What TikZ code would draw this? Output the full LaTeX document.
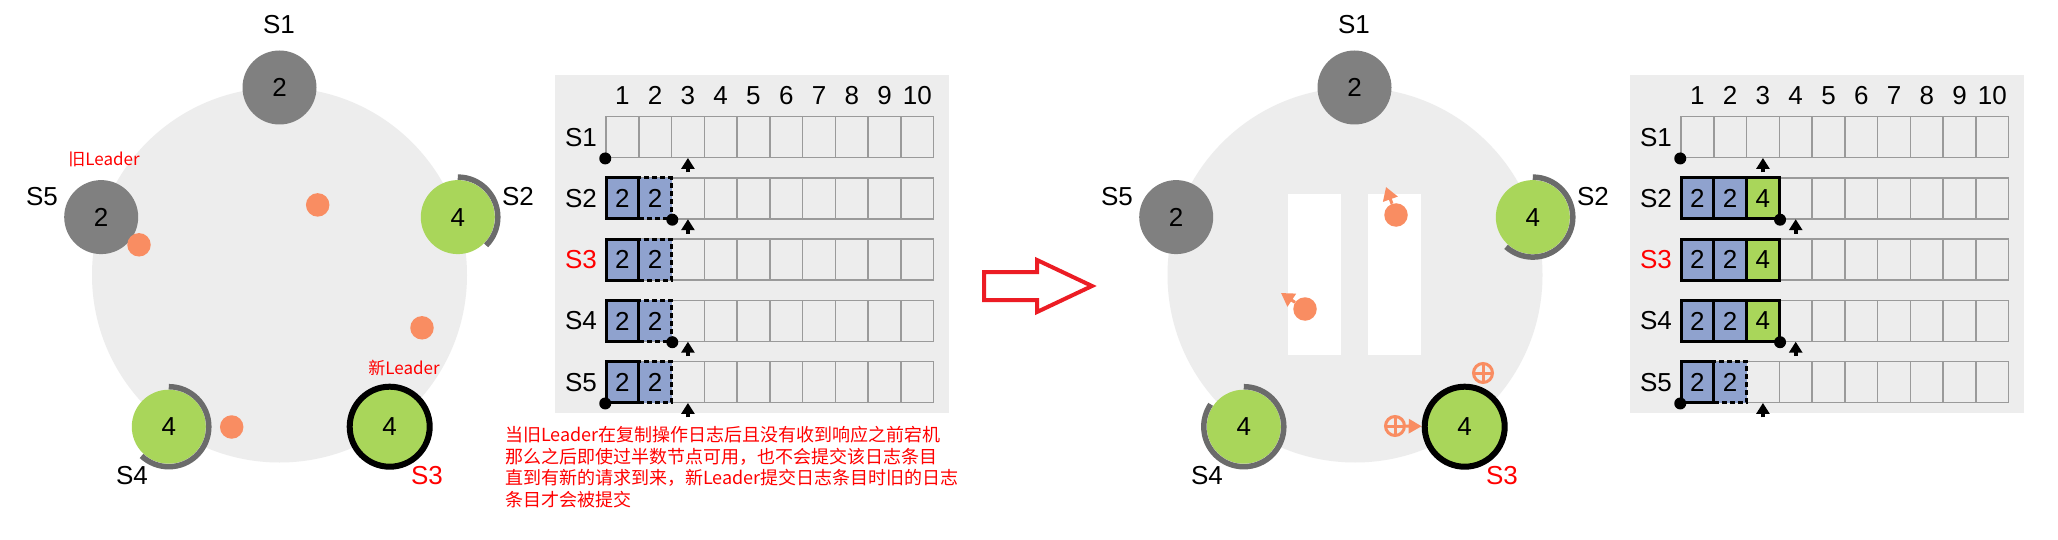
\documentclass[tikz,border=0pt]{standalone}
\usepackage{fontspec}
\setmainfont{Liberation Sans}
\newfontfamily\cjk{Noto Sans CJK SC}
\usetikzlibrary{arrows.meta}
\definecolor{bgc}{HTML}{EDEDED}
\definecolor{srvgray}{HTML}{808080}
\definecolor{srvgreen}{HTML}{A9D65A}
\definecolor{arcgray}{HTML}{6B6B6B}
\definecolor{dotor}{HTML}{F98D62}
\definecolor{logblue}{HTML}{8FA2CE}
\definecolor{cellline}{HTML}{9A9A9A}
\definecolor{redt}{HTML}{FF0000}
\definecolor{arrowred}{HTML}{EC1C24}
\begin{document}
\begin{tikzpicture}[x=1pt,y=-1pt,
  srv/.style={circle, inner sep=0pt, minimum size=74pt, font=\fontsize{26}{26}\selectfont},
  gsrv/.style={srv, fill=srvgray},
  nsrv/.style={srv, fill=srvgreen},
  lsrv/.style={srv, fill=srvgreen, draw=black, line width=6pt, minimum size=80pt},
  arcring/.style={draw=arcgray, line width=5.5pt},
  lbl/.style={font=\fontsize{26}{26}\selectfont, inner sep=0pt},
  redlbl/.style={lbl, text=redt},
  cjklbl/.style={font=\cjk\fontsize{17}{17}\selectfont, text=redt, inner sep=0pt},
  para/.style={font=\cjk\fontsize{18}{18}\selectfont, text=redt, inner sep=0pt, anchor=base west},
  odot/.style={circle, fill=dotor, inner sep=0pt, minimum size=23.5pt},
  oarrow/.style={draw=dotor, line width=3pt, -{Triangle[width=15pt,length=13pt]}},
  oplus/.style={circle, draw=dotor, line width=3pt, inner sep=0pt, minimum size=19pt,
    path picture={\draw[dotor, line width=3pt]
      (path picture bounding box.north) -- (path picture bounding box.south)
      (path picture bounding box.west) -- (path picture bounding box.east);}},
  cellbox/.style={draw=cellline, line width=1.5pt, minimum width=32.77pt, minimum height=41pt, inner sep=0pt},
  entry/.style={draw=black, line width=3pt, fill=logblue, minimum width=32.77pt, minimum height=41pt,
    inner sep=0pt, font=\fontsize{26}{26}\selectfont},
  dentry/.style={entry, dash pattern=on 5pt off 3pt},
  gentry/.style={entry, fill=srvgreen},
  bdot/.style={circle, fill=black, inner sep=0pt, minimum size=12pt},
  ptr/.style={draw=black, line width=4pt, -{Triangle[width=13pt,length=11pt]}},
]
\useasboundingbox (0,0) rectangle (2058,540);
\fill[white] (0,0) rectangle (2058,540);

% ================= LEFT CLUSTER =================
\fill[bgc] (279.5,275) circle (187.5pt);
\node[gsrv] (L-S1) at (279.5,87.5) {2};
\node[gsrv] (L-S5) at (101.2,217.1) {2};
\node[nsrv] (L-S2) at (457.8,217.1) {4};
\node[nsrv] (L-S4) at (168.8,426.7) {4};
\node[lsrv] (L-S3) at (389.7,426.7) {4};
\draw[arcring] ([shift={(90:40pt)}]L-S2.center) arc[start angle=90, end angle=-45, radius=40pt];
\draw[arcring] ([shift={(90:40pt)}]L-S4.center) arc[start angle=90, end angle=-133, radius=40pt];
\node[odot] (L-d1) at (317.7,204.9) {};
\node[odot] (L-d2) at (139,244.8) {};
\node[odot] (L-d3) at (422,327.8) {};
\node[odot] (L-d4) at (231.7,427) {};
\node[lbl] (L-t1) at (279,25) {S1};
\node[lbl] (L-t5) at (42,197) {S5};
\node[lbl] (L-t2) at (518,197) {S2};
\node[lbl] (L-t4) at (132,476) {S4};
\node[redlbl] (L-t3) at (427,476) {S3};
\node[cjklbl] (L-old) at (104,159) {旧Leader};
\node[cjklbl] (L-new) at (404,368) {新Leader};

% ================= LEFT LOG TABLE =================
\fill[bgc] (555,75) rectangle (949,413);
\foreach \c in {1,...,10} {
  \node[lbl] (LH-\c) at ({606+32.77*(\c-0.5)},95.5) {\c};
  \foreach \r in {1,...,5} {
    \node[cellbox] (LC-\r-\c) at ({606+32.77*(\c-0.5)},{137.2+61.25*(\r-1)}) {};
  }
}
\node[lbl] (LR-1) at (581,137.2) {S1};
\node[lbl] (LR-2) at (581,198.45) {S2};
\node[redlbl] (LR-3) at (581,259.7) {S3};
\node[lbl] (LR-4) at (581,320.95) {S4};
\node[lbl] (LR-5) at (581,382.2) {S5};
\foreach \r in {2,...,5} {
  \node[dentry] (LE-\r-2) at (LC-\r-2) {2};
  \node[entry] (LE-\r-1) at (LC-\r-1) {2};
}
\node[bdot] (LD-1) at (LC-1-1.south west) {};
\node[bdot] (LD-2) at (LC-2-2.south east) {};
\node[bdot] (LD-4) at (LC-4-2.south east) {};
\node[bdot] (LD-5) at (LC-5-1.south west) {};
\foreach \r in {1,2,4,5} {
  \draw[ptr] ([yshift=-14pt]LC-\r-3.south) -- ([yshift=0.5pt]LC-\r-3.south);
}

% ================= PARAGRAPH =================
\node[para] (P1) at (505,441.5) {当旧Leader在复制操作日志后且没有收到响应之前宕机};
\node[para] (P2) at (505,463.2) {那么之后即使过半数节点可用，也不会提交该日志条目};
\node[para] (P3) at (505,484.8) {直到有新的请求到来，新Leader提交日志条目时旧的日志};
\node[para] (P4) at (505,506.5) {条目才会被提交};

% ================= BIG ARROW =================
\draw[arrowred, line width=4pt, fill=white, line join=miter]
  (984,272) -- (1037,272) -- (1037,260) -- (1092,286) -- (1037,312) -- (1037,300) -- (984,300) -- cycle;

% ================= RIGHT CLUSTER =================
\fill[bgc] (1355,275) circle (187.5pt);
\fill[white] (1288,194) rectangle (1341,355);
\fill[white] (1368,194) rectangle (1421,355);
\node[gsrv] (R-S1) at (1354.5,87.5) {2};
\node[gsrv] (R-S5) at (1176.2,217.1) {2};
\node[nsrv] (R-S2) at (1532.8,217.1) {4};
\node[nsrv] (R-S4) at (1243.8,426.7) {4};
\node[lsrv] (R-S3) at (1464.7,426.7) {4};
\draw[arcring] ([shift={(90:40pt)}]R-S2.center) arc[start angle=90, end angle=-132, radius=40pt];
\draw[arcring] ([shift={(90:40pt)}]R-S4.center) arc[start angle=90, end angle=-214, radius=40pt];
\node[odot] (R-d1) at (1396,215) {};
\coordinate (R-d1t) at (1386,187);
\draw[oarrow] (R-d1) -- (R-d1t);
\node[odot] (R-d2) at (1305,309) {};
\coordinate (R-d2t) at (1281,293);
\draw[oarrow] (R-d2) -- (R-d2t);
\node[oplus] (R-p1) at (1483,373) {};
\node[oplus] (R-p2) at (1395,426) {};
\draw[draw=dotor, line width=3pt, -{Triangle[width=14pt,length=13pt]}] (R-p2) -- (R-S3);
\node[lbl] (R-t1) at (1354,25) {S1};
\node[lbl] (R-t5) at (1117,197) {S5};
\node[lbl] (R-t2) at (1593,197) {S2};
\node[lbl] (R-t4) at (1207,476) {S4};
\node[redlbl] (R-t3) at (1502,476) {S3};

% ================= RIGHT LOG TABLE =================
\fill[bgc] (1630,75) rectangle (2024,413);
\foreach \c in {1,...,10} {
  \node[lbl] (RH-\c) at ({1681+32.77*(\c-0.5)},95.5) {\c};
  \foreach \r in {1,...,5} {
    \node[cellbox] (RC-\r-\c) at ({1681+32.77*(\c-0.5)},{137.2+61.25*(\r-1)}) {};
  }
}
\node[lbl] (RR-1) at (1656,137.2) {S1};
\node[lbl] (RR-2) at (1656,198.45) {S2};
\node[redlbl] (RR-3) at (1656,259.7) {S3};
\node[lbl] (RR-4) at (1656,320.95) {S4};
\node[lbl] (RR-5) at (1656,382.2) {S5};
\foreach \r in {2,3,4} {
  \node[entry] (RE-\r-1) at (RC-\r-1) {2};
  \node[entry] (RE-\r-2) at (RC-\r-2) {2};
  \node[gentry] (RE-\r-3) at (RC-\r-3) {4};
}
\node[dentry] (RE-5-2) at (RC-5-2) {2};
\node[entry] (RE-5-1) at (RC-5-1) {2};
\node[bdot] (RD-1) at (RC-1-1.south west) {};
\node[bdot] (RD-2) at (RC-2-3.south east) {};
\node[bdot] (RD-4) at (RC-4-3.south east) {};
\node[bdot] (RD-5) at (RC-5-1.south west) {};
\draw[ptr] ([yshift=-14pt]RC-1-3.south) -- ([yshift=0.5pt]RC-1-3.south);
\draw[ptr] ([yshift=-14pt]RC-2-4.south) -- ([yshift=0.5pt]RC-2-4.south);
\draw[ptr] ([yshift=-14pt]RC-4-4.south) -- ([yshift=0.5pt]RC-4-4.south);
\draw[ptr] ([yshift=-14pt]RC-5-3.south) -- ([yshift=0.5pt]RC-5-3.south);
\end{tikzpicture}
\end{document}
